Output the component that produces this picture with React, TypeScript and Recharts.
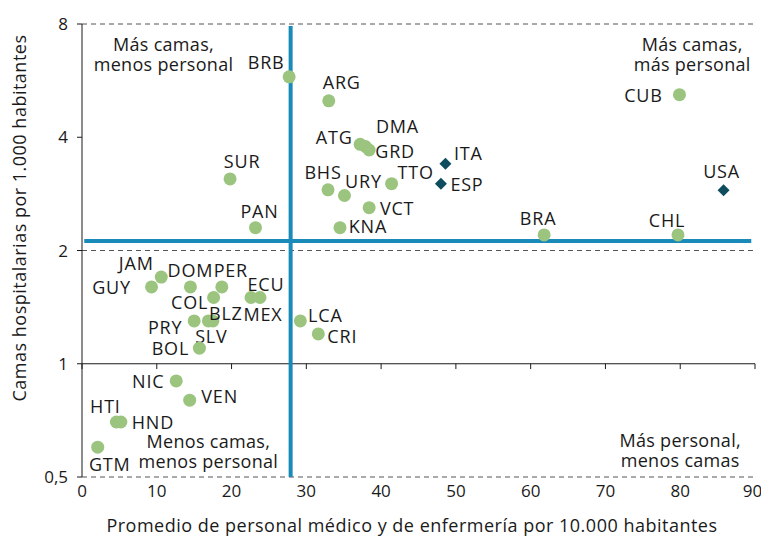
import React from "react";
import {
  ScatterChart,
  Scatter,
  XAxis,
  YAxis,
  ReferenceLine,
  ReferenceDot,
} from "recharts";

// América Latina y el Caribe
const lacCodes = [
  "BRB", "ARG", "ATG", "DMA", "GRD", "SUR", "PAN", "BHS", "URY", "VCT", "KNA",
  "TTO", "CUB", "BRA", "CHL", "JAM", "GUY", "DOM", "PER", "COL", "ECU", "MEX",
  "PRY", "SLV", "BLZ", "BOL", "LCA", "CRI", "NIC", "VEN", "HTI", "HND", "GTM",
];
const lacStaff = [
  27.7, 33.0, 37.2, 37.9, 38.4, 19.8, 23.2, 32.9, 35.1, 38.4, 34.5,
  41.4, 79.9, 61.8, 79.7, 10.6, 9.3, 14.5, 18.7, 17.6, 22.6, 23.8,
  15.0, 16.9, 17.5, 15.7, 29.2, 31.6, 12.6, 14.4, 4.6, 5.2, 2.1,
];
const lacBeds = [
  5.79, 5.0, 3.83, 3.78, 3.7, 3.1, 2.3, 2.9, 2.8, 2.6, 2.3,
  3.01, 5.19, 2.2, 2.2, 1.7, 1.6, 1.6, 1.6, 1.5, 1.5, 1.5,
  1.3, 1.3, 1.3, 1.1, 1.3, 1.2, 0.9, 0.8, 0.7, 0.7, 0.6,
];

// referencia OCDE
const refCodes = ["ITA", "ESP", "USA"];
const refStaff = [48.6, 48.0, 85.8];
const refBeds = [3.4, 3.01, 2.89];

// promedios regionales (líneas azules)
const avgStaff = 27.9;
const avgBeds = 2.12;

const xTicks = [0, 10, 20, 30, 40, 50, 60, 70, 80, 90];
const yTicks = [0.5, 1, 2, 4, 8];
const dashedLevels = [8, 2, 0.5];

const quadrants = [
  { x: 10.9, y: 6.66, lines: ["Más camas,", "menos personal"] },
  { x: 81.6, y: 6.66, lines: ["Más camas,", "más personal"] },
  { x: 16.9, y: 0.586, lines: ["Menos camas,", "menos personal"] },
  { x: 80.0, y: 0.589, lines: ["Más personal,", "menos camas"] },
];

// label offsets (px) from the marker centre
const labelOffset: Record<string, [number, number]> = {
  BRB: [-23, -15], ARG: [13, -19], ATG: [-26, -7], DMA: [32, -20], GRD: [26, 1],
  SUR: [12, -18], PAN: [4, -17], BHS: [-5, -18], URY: [19, -15], VCT: [28, 0],
  KNA: [28, -2], TTO: [24, -12], ITA: [23, -11], ESP: [26, 0], USA: [-2, -19],
  CUB: [-36, 0], BRA: [-6, -17], CHL: [-11, -15], JAM: [-25, -14], GUY: [-40, 0],
  DOM: [0, -17], PER: [9, -17], COL: [-24, 4], ECU: [15, -14], MEX: [3, 16],
  BLZ: [13, -8], SLV: [3, 15], PRY: [-29, 6], BOL: [-29, 0], LCA: [25, -6],
  CRI: [24, 2], NIC: [-28, 0], VEN: [30, -4], HTI: [-11, -16], HND: [32, 0],
  GTM: [12, 17],
};

const lacData = lacCodes.map((c, i) => ({ code: c, x: lacStaff[i], y: lacBeds[i] }));
const refData = refCodes.map((c, i) => ({ code: c, x: refStaff[i], y: refBeds[i] }));

const FONT = "'Open Sans', sans-serif";
const GREEN = "#9bc47f";
const DARK = "#0e4d5e";
const BLUE = "#1a8bb9";
const INK = "#1a1a1a";

const pointLabel = (code: string, cx: number, cy: number) => {
  const [dx, dy] = labelOffset[code] ?? [0, -16];
  return (
    <text
      x={cx + dx}
      y={cy + dy}
      textAnchor="middle"
      dominantBaseline="central"
      fontSize={18}
      letterSpacing={0.8}
      fontFamily={FONT}
      fill={INK}
    >
      {code}
    </text>
  );
};

const circleShape = (p: any) => (
  <g>
    <circle cx={p.cx} cy={p.cy} r={6.5} fill={GREEN} />
    {pointLabel(p.payload.code, p.cx, p.cy)}
  </g>
);

const diamondShape = (p: any) => {
  const s = 6;
  return (
    <g>
      <path
        d={`M${p.cx},${p.cy - s}L${p.cx + s},${p.cy}L${p.cx},${p.cy + s}L${p.cx - s},${p.cy}Z`}
        fill={DARK}
      />
      {pointLabel(p.payload.code, p.cx, p.cy)}
    </g>
  );
};

// two-line quadrant note, one <text> per line
const quadrantShape = (lines: string[]) => (p: any) => (
  <g>
    {lines.map((l, i) => (
      <text
        key={i}
        x={p.cx}
        y={p.cy - 10 + i * 20}
        textAnchor="middle"
        dominantBaseline="central"
        fontSize={18}
        letterSpacing={0.3}
        fontFamily={FONT}
        fill={INK}
      >
        {l}
      </text>
    ))}
  </g>
);

const yTitle = () => (
  <text
    transform="translate(19,218) rotate(-90)"
    textAnchor="middle"
    dominantBaseline="central"
    fontSize={18}
    letterSpacing={0.5}
    fontFamily={FONT}
    fill={INK}
  >
    Camas hospitalarias por 1.000 habitantes
  </text>
);

const xTitle = () => (
  <text
    x={412}
    y={525}
    textAnchor="middle"
    dominantBaseline="central"
    fontSize={18}
    letterSpacing={0.5}
    fontFamily={FONT}
    fill={INK}
  >
    Promedio de personal médico y de enfermería por 10.000 habitantes
  </text>
);

export default function App() {
  return (
    <div>
      <style>{"body{margin:0;background:#fff}"}</style>
      <ScatterChart
        width={761}
        height={538}
        margin={{ top: 24, right: 6, bottom: 31, left: 22 }}
      >
        <XAxis
          type="number"
          dataKey="x"
          domain={[0, 90]}
          ticks={xTicks}
          axisLine={false}
          tickLine={false}
          tickSize={5}
          tickMargin={3}
          tick={{ fontSize: 17, fontFamily: FONT, fill: INK }}
          label={{ content: xTitle }}
        />
        <YAxis
          type="number"
          dataKey="y"
          scale="log"
          domain={[0.5, 8]}
          ticks={yTicks}
          allowDataOverflow
          width={60}
          axisLine={{ stroke: INK }}
          tickLine={{ stroke: INK }}
          tickSize={5}
          tickMargin={9}
          tickFormatter={(v: number) => String(v).replace(".", ",")}
          tick={{ fontSize: 17, fontFamily: FONT, fill: INK }}
          label={{ content: yTitle }}
        />
        {dashedLevels.map((v) => (
          <ReferenceLine key={v} y={v} stroke="#555" strokeDasharray="5 4" />
        ))}
        <ReferenceLine y={1} stroke={INK} />
        {xTicks.map((t) => (
          <ReferenceLine
            key={`t${t}`}
            segment={[
              { x: t, y: 1 },
              { x: t, y: 0.968 },
            ]}
            stroke={INK}
          />
        ))}
        <ReferenceLine
          segment={[
            { x: avgStaff, y: 0.5 },
            { x: avgStaff, y: 7.9 },
          ]}
          stroke={BLUE}
          strokeWidth={4}
        />
        <ReferenceLine
          segment={[
            { x: 0.3, y: avgBeds },
            { x: 89.5, y: avgBeds },
          ]}
          stroke={BLUE}
          strokeWidth={4}
        />
        {quadrants.map((q, i) => (
          <ReferenceDot key={`q${i}`} x={q.x} y={q.y} shape={quadrantShape(q.lines)} />
        ))}
        <Scatter data={lacData} shape={circleShape} isAnimationActive={false} />
        <Scatter data={refData} shape={diamondShape} isAnimationActive={false} />
      </ScatterChart>
    </div>
  );
}
